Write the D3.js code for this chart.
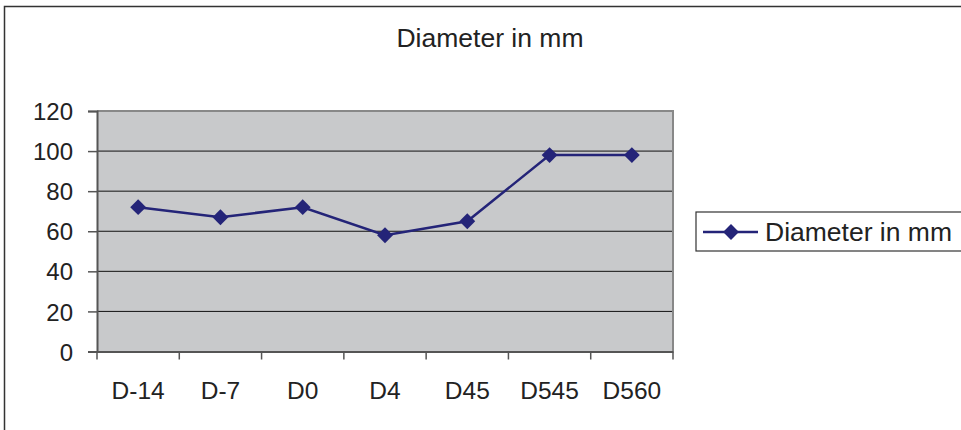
<!DOCTYPE html>
<html><head><meta charset="utf-8">
<script src="https://cdn.jsdelivr.net/npm/d3@7"></script>
<style>body{margin:0;background:#fff}svg{display:block;font-family:"Liberation Sans",Arial,sans-serif}</style>
</head><body><svg id="c" width="961" height="430"></svg>
<script>
const categories = ["D-14","D-7","D0","D4","D45","D545","D560"];
const values = [72, 67, 72, 58, 65, 98, 98];
const yTicks = [0,20,40,60,80,100,120];
const seriesName = "Diameter in mm";
const titleText = "Diameter in mm";

const svg = d3.select("#c");
const L=97, R=673, T=111, B=351.5;
const x = d3.scaleBand().domain(categories).range([L,R]);
const y = d3.scaleLinear().domain([0,120]).range([B,T]);
const navy = "#242478";
const FF = "Liberation Sans, Arial, sans-serif";

// outer frame
svg.append("path").attr("d","M4.5,430 V6.5 H961").attr("fill","none").attr("stroke","#333").attr("stroke-width",1.5);

// title
svg.append("text").attr("x",490).attr("y",47).attr("text-anchor","middle").attr("font-size",26.5).attr("fill","#222").text(titleText);

// plot bg
svg.append("rect").attr("x",L).attr("y",T).attr("width",R-L).attr("height",B-T).attr("fill","#c8c9cb");
// gridlines
svg.append("g").selectAll("line").data(yTicks.filter(d=>d>0&&d<120)).join("line")
  .attr("x1",L).attr("x2",R).attr("y1",d=>y(d)).attr("y2",d=>y(d)).attr("stroke","#111").attr("stroke-width",1);
// top/right border
svg.append("path").attr("d",`M${L},${T} H${R} V${B}`).attr("fill","none").attr("stroke","#888").attr("stroke-width",2);

// y axis
const ya = svg.append("g").attr("transform",`translate(${L},0)`).call(d3.axisLeft(y).tickValues(yTicks).tickSize(9).tickPadding(15));
ya.select(".domain").attr("stroke","#555").attr("stroke-width",2);
ya.selectAll(".tick line").attr("stroke","#555").attr("stroke-width",1.5);
ya.selectAll("text").attr("font-size",24).attr("fill","#222").attr("font-family",FF).attr("dy","0.36em");

// x axis
const xa = svg.append("g").attr("transform",`translate(0,${B})`).call(d3.axisBottom(x).tickSize(0).tickPadding(30));
xa.select(".domain").attr("stroke","#555").attr("stroke-width",2);
xa.selectAll("text").attr("font-size",24.5).attr("fill","#222").attr("font-family",FF);
// category boundary ticks
svg.append("g").selectAll("line").data(d3.range(categories.length+1)).join("line")
  .attr("x1",i=>L+i*x.step()).attr("x2",i=>L+i*x.step()).attr("y1",B).attr("y2",B+8)
  .attr("stroke","#555").attr("stroke-width",1.5);

// line
const cx = d=>x(d)+x.bandwidth()/2;
svg.append("path").datum(values).attr("fill","none").attr("stroke",navy).attr("stroke-width",2.5)
  .attr("d",d3.line().x((d,i)=>cx(categories[i])).y(d=>y(d)));
const diamond = d3.symbol().type(d3.symbolDiamond2).size(160);
svg.append("g").selectAll("path").data(values).join("path")
  .attr("d",diamond).attr("fill",navy)
  .attr("transform",(d,i)=>`translate(${cx(categories[i])},${y(d)})`);

// legend
svg.append("rect").attr("x",696).attr("y",212).attr("width",270).attr("height",39).attr("fill","#fff").attr("stroke","#333").attr("stroke-width",1.2);
svg.append("line").attr("x1",703).attr("x2",758).attr("y1",232).attr("y2",232).attr("stroke",navy).attr("stroke-width",2.5);
svg.append("path").attr("d",diamond).attr("fill",navy).attr("transform","translate(731,232)");
svg.append("text").attr("x",765).attr("y",241).attr("font-size",26.5).attr("fill","#222").text(seriesName);
</script></body></html>
